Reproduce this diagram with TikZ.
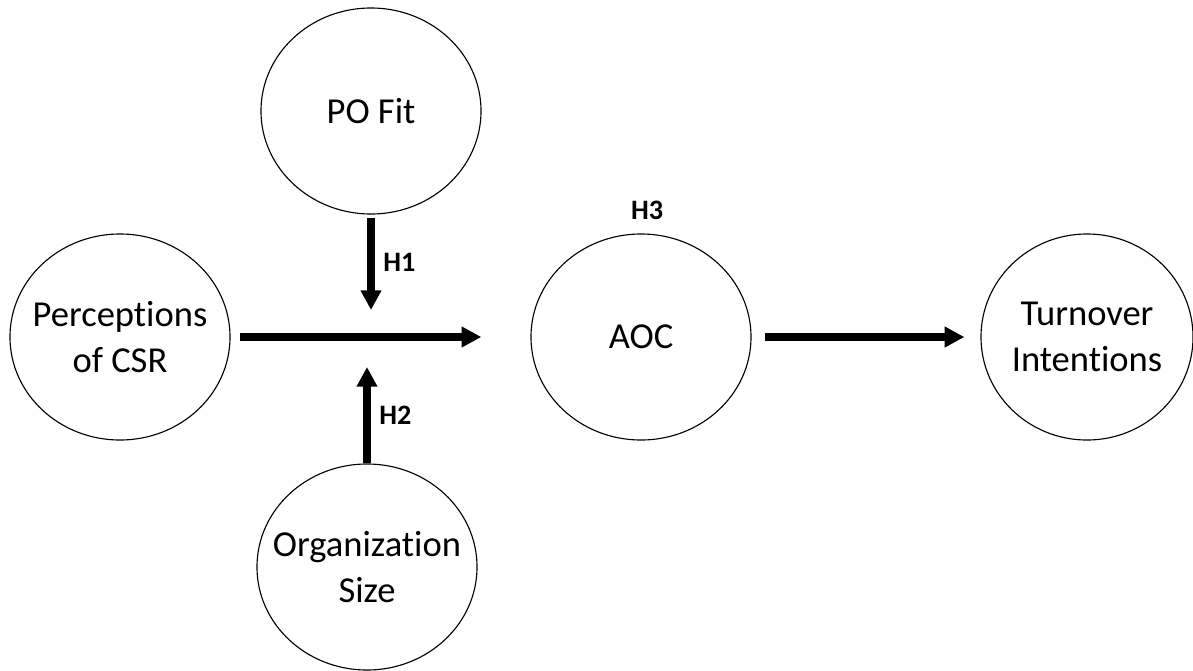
\documentclass[tikz,border=0pt]{standalone}
\usepackage{fontspec}
\setmainfont{Carlito}[Ligatures=NoCommon]
\usetikzlibrary{arrows.meta,shapes.geometric}
\tikzstyle{construct}=[ellipse,draw,line width=0.8pt,minimum width=5.5cm,minimum height=5.15cm,inner sep=-15pt,align=center,font=\fontsize{26}{33}\selectfont]
\tikzstyle{bigarrow}=[line width=5pt,-{Triangle[length=14pt,width=14pt]}]
\tikzstyle{hyp}=[font=\fontsize{20}{24}\selectfont\bfseries]

\begin{document}
\begin{tikzpicture}[x=0.025cm, y=-0.025cm]
\useasboundingbox (0, 0) rectangle (1193, 671);
\node[construct] at (120, 337) (csr) {Perceptions\\of CSR};
\node[construct] at (371, 111) (pofit) {PO Fit};
\node[construct] at (367, 567) (orgsize) {Organization\\Size};
\node[construct] at (641, 337) (aoc) {AOC};
\node[construct, minimum width=5.3cm] at (1087, 337) (turnover) {Turnover\\Intentions};
\coordinate (jtop) at (371, 310);
\coordinate (jbot) at (367, 367);
\node[hyp] at (647, 210) (h3) {H3};
\draw[bigarrow, shorten <=6.4pt, shorten >=34.9pt] (csr) -- (aoc);
\draw[bigarrow, shorten <=2.1pt] (pofit.south) -- node[hyp, anchor = west, xshift = 3pt] (h1) {H1} (jtop);
\draw[bigarrow] (orgsize.north) -- node[hyp, anchor = west, xshift = 3pt] (h2) {H2} (jbot);
\draw[bigarrow, shorten <=9.2pt, shorten >=11.4pt] (aoc) -- (turnover);
\end{tikzpicture}
\end{document}
